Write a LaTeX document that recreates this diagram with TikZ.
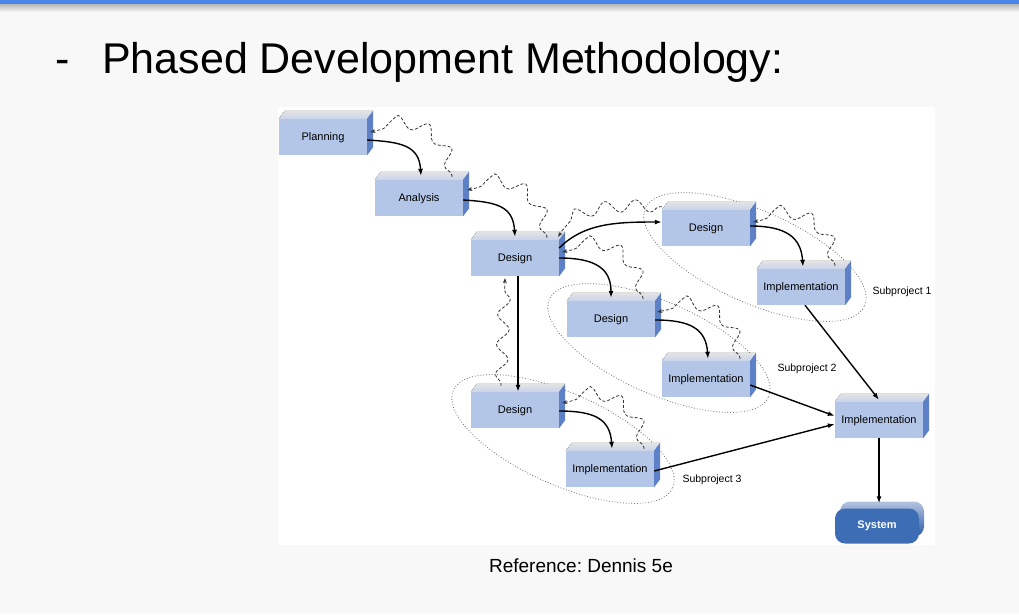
\documentclass[tikz,border=0pt]{standalone}
\usepackage{fontspec}
\setmainfont{Liberation Sans}
\usetikzlibrary{calc,arrows.meta,decorations.pathmorphing}
\definecolor{slide}{HTML}{F8F8F8}
\definecolor{topbar}{HTML}{4A86E8}
\definecolor{front}{HTML}{B3C6E7}
\definecolor{side}{HTML}{5D80C6}
\definecolor{topface}{HTML}{C9D3EA}
\definecolor{sysfront}{HTML}{3D6DB5}
\definecolor{sysside}{HTML}{2A5AA3}
\definecolor{systop}{HTML}{B5C4E0}
\definecolor{ring}{HTML}{6E6E6E}
\frenchspacing
\tikzset{
  box/.style={fill=front, minimum width=88pt, minimum height=36pt, inner sep=0pt, text height=8pt, text depth=2pt, font=\fontsize{11}{13}\selectfont},
  boxtop/.style={top color=gray!22, bottom color=topface},
  boxside/.style={fill=side},
  sysbox/.style={rounded corners=10pt, minimum width=84pt, minimum height=35pt, inner sep=0pt},
  flow/.style={draw=black, line width=1.4pt, -{Latex[length=7pt,width=5pt]}},
  back/.style={draw=black!80, line width=0.8pt, dash pattern=on 3pt off 2pt, -{Stealth[length=5pt,width=4pt]},
    decorate, decoration={snake, amplitude=6pt, segment length=30pt, pre length=2pt, post length=7pt}},
  ring/.style={draw=ring, line width=0.8pt, dotted},
  sublab/.style={font=\fontsize{10.5}{12}\selectfont},
}
\begin{document}
\begin{tikzpicture}[x=1pt,y=-1pt]
  \useasboundingbox (0,0) rectangle (1019,614);
  \fill[slide] (0,0) rectangle (1019,614);
  \shade[top color=gray!60, bottom color=slide] (0,3.5) rectangle (1019,12);
  \fill[topbar] (0,0) rectangle (1019,3.5);

  \node[anchor=base, font=\fontsize{43}{50}\selectfont] at (63,73) {-};
  \node[anchor=base west, inner sep=0pt, font=\fontsize{43}{50}\selectfont] at (102,73) {Phased Development Methodology:};

  \fill[white] (278,107) rectangle (935,545);

  % subprojects
  \draw[ring, rotate around={-24:(755,257)}] (755,257) ellipse [x radius=120pt, y radius=46pt];
  \draw[ring, rotate around={-24:(659,348)}] (659,348) ellipse [x radius=120pt, y radius=46pt];
  \draw[ring, rotate around={-24:(563,439)}] (563,439) ellipse [x radius=120pt, y radius=46pt];
  \node[sublab] at (902,292) {Subproject 1};
  \node[sublab] at (807,369) {Subproject 2};
  \node[sublab] at (712,480) {Subproject 3};

  % phases
  \node[box] (plan) at (323,137) {Planning};
  \node[box] (anal) at (419,198) {Analysis};
  \node[box] (des)  at (515,258) {Design};
  \node[box] (des1) at (706,228) {Design};
  \node[box] (imp1) at (801,287) {Implementation};
  \node[box] (des2) at (611,319) {Design};
  \node[box] (imp2) at (706,379) {Implementation};
  \node[box] (des3) at (515,410) {Design};
  \node[box] (imp3) at (610,469) {Implementation};
  \node[box] (impf) at (879,420) {Implementation};

  \foreach \n in {plan,anal,des,des1,imp1,des2,imp2,des3,imp3,impf} {
    \fill[boxtop] (\n.north west) -- ++(6,-8) -- ($(\n.north east)+(6,-8)$) -- (\n.north east) -- cycle;
    \fill[boxside] (\n.north east) -- ++(6,-8) -- ($(\n.south east)+(6,-8)$) -- (\n.south east) -- cycle;
  }

  \node[sysbox, top color=systop, middle color=sysside, bottom color=sysside] (sysback) at (882,519) {};
  \node[sysbox, fill=sysfront, text=white, font=\fontsize{11}{13}\selectfont\bfseries] (sys) at (877,526) {System};

  % forward flow
  \draw[flow] ([yshift=-3pt]plan.east) .. controls +(35,2) and +(-2,-30) .. ([xshift=2pt,yshift=4pt]anal.north);
  \draw[flow] ([yshift=-2pt]anal.east) .. controls +(35,2) and +(-2,-30) .. ([yshift=3pt]des.north);
  \draw[flow] ([yshift=10pt]des.east) .. controls +(25,-25) and +(-45,0) .. ([yshift=6pt]des1.west);
  \draw[flow] (des.east) .. controls +(35,0) and +(0,-30) .. ([yshift=3pt]des2.north);
  \draw[flow] ([xshift=3pt]des.south) -- ([xshift=3pt]des3.north);
  \draw[flow] ([yshift=2pt]des1.east) .. controls +(35,0) and +(-2,-30) .. ([xshift=2pt,yshift=2pt]imp1.north);
  \draw[flow] ([yshift=-1pt]des2.east) .. controls +(35,0) and +(-2,-30) .. ([xshift=2pt,yshift=2pt]imp2.north);
  \draw[flow] ([yshift=-1pt]des3.east) .. controls +(35,0) and +(-2,-30) .. ([xshift=2pt,yshift=2pt]imp3.north);
  \draw[flow] ([xshift=4pt]imp1.south) -- ([yshift=2pt]impf.north);
  \draw[flow] ([yshift=-6pt]imp2.east) -- ([yshift=4pt]impf.west);
  \draw[flow] ([yshift=-2pt]imp3.east) -- ([yshift=-4pt]impf.west);
  \draw[flow] (impf.south) -- ([xshift=2pt,yshift=5pt]sys.north);

  % rework back
  \draw[back] ([xshift=33pt,yshift=3pt]anal.north) .. controls +(-4,-40) and +(40,-10) .. ([xshift=3pt,yshift=5pt]plan.east);
  \draw[back] ([xshift=32pt,yshift=2pt]des.north) .. controls +(-4,-40) and +(40,-10) .. ([xshift=4pt,yshift=8pt]anal.east);
  \draw[back] ([yshift=3pt]des1.north west) .. controls +(-50,-3) and +(12,-25) .. ([xshift=-1pt,yshift=3pt]des.north east);
  \draw[back] ([xshift=32pt,yshift=2pt]des2.north) .. controls +(-4,-40) and +(40,-10) .. ([xshift=3pt,yshift=6pt]des.east);
  \draw[back] ([xshift=-14pt,yshift=6pt]des3.north) -- ([xshift=-10pt,yshift=-2pt]des.south);
  \draw[back] ([xshift=34pt,yshift=3pt]imp1.north) .. controls +(-4,-40) and +(40,-10) .. ([xshift=3pt,yshift=6pt]des1.east);
  \draw[back] ([xshift=34pt,yshift=2pt]imp2.north) .. controls +(-4,-40) and +(40,-10) .. ([xshift=2pt,yshift=7pt]des2.east);
  \draw[back] ([xshift=34pt,yshift=2pt]imp3.north) .. controls +(-4,-40) and +(40,-10) .. ([xshift=3pt,yshift=7pt]des3.east);

  \node[anchor=base, inner sep=0pt, font=\fontsize{19}{23}\selectfont] at (581,572) {Reference: Dennis 5e};
\end{tikzpicture}
\end{document}
